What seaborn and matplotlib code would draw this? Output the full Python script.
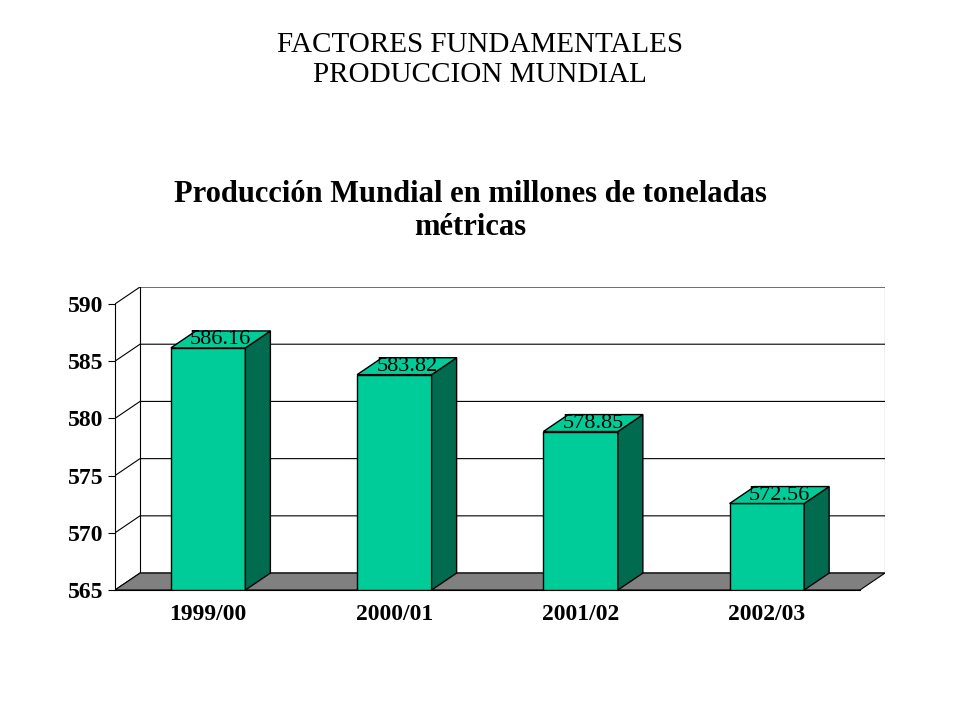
import matplotlib
matplotlib.use("Agg")
import matplotlib.pyplot as plt
import seaborn as sns
import pandas as pd
from matplotlib.patches import Polygon

categories = ["1999/00", "2000/01", "2001/02", "2002/03"]
values = [586.16, 583.82, 578.85, 572.56]
yticks = [565, 570, 575, 580, 585, 590]

plt.rcParams["font.family"] = "Liberation Serif"
fig = plt.figure(figsize=(9.6, 7.2), dpi=100)
W, H = 960, 720
L, R, B, T = 115, 885, 590, 287
ax = fig.add_axes([L / W, 1 - B / H, (R - L) / W, (B - T) / H])

dx = 25 / 186.25
dy = 17 / 57.4 * 5
ymin, ymax = 565, 590
ax.set_xlim(-0.5, 3.5 + dx)
ax.set_ylim(ymin, ymax + dy)

df = pd.DataFrame({"cat": categories, "val": values})
bw = 0.4
sns.barplot(data=df, x="cat", y="val", color="#00CC99", width=bw, saturation=1,
            edgecolor="black", linewidth=1, ax=ax, zorder=5)
for p in ax.patches:
    p.set_y(ymin)
    p.set_height(p.get_height() - ymin)
ax.set_xlim(-0.5, 3.5 + dx)
ax.set_ylim(ymin, ymax + dy)

# back wall and gridlines
for t in yticks:
    ax.plot([-0.5, -0.5 + dx, 3.5 + dx], [t, t + dy, t + dy], color="black", lw=0.8, zorder=1)
ax.plot([3.5 + dx, 3.5 + dx], [ymin + dy, ymax + dy], color="black", lw=0.8, zorder=1)
ax.plot([-0.5 + dx, -0.5 + dx], [ymin + dy, ymax + dy], color="black", lw=0.8, zorder=1)
# floor
ax.add_patch(Polygon([(-0.5, ymin), (3.5, ymin), (3.5 + dx, ymin + dy), (-0.5 + dx, ymin + dy)],
                     closed=True, facecolor="#808080", edgecolor="black", lw=0.8, zorder=2))

for i, v in enumerate(values):
    x0, x1 = i - bw / 2, i + bw / 2
    ax.add_patch(Polygon([(x1, ymin), (x1 + dx, ymin + dy), (x1 + dx, v + dy), (x1, v)],
                         closed=True, facecolor="#006B4E", edgecolor="black", lw=1, zorder=6))
    ax.add_patch(Polygon([(x0, v), (x1, v), (x1 + dx, v + dy), (x0 + dx, v + dy)],
                         closed=True, facecolor="#00CC99", edgecolor="black", lw=1, zorder=6))
    ax.text(i + dx / 2, v + dy / 2, f"{v:.2f}", ha="center", va="center",
            fontsize=16, zorder=7)

for s in ["top", "right"]:
    ax.spines[s].set_visible(False)
ax.spines["left"].set_bounds(ymin, ymax)
ax.spines["bottom"].set_bounds(-0.5, 3.5)
ax.set_yticks(yticks)
ax.set_xticks(range(4))
ax.set_xticklabels(categories)
ax.tick_params(axis="x", length=0, pad=10)
ax.tick_params(axis="y", length=5, direction="out")
for lab in ax.get_xticklabels() + ax.get_yticklabels():
    lab.set_fontsize(17)
    lab.set_fontweight("bold")
ax.set_xlabel("")
ax.set_ylabel("")
ax.set_facecolor("none")

fig.text(0.5, 1 - 60 / H, "FACTORES FUNDAMENTALES\nPRODUCCION MUNDIAL", ha="center",
         va="center", fontsize=21, linespacing=1.15)
fig.text(470 / W, 1 - 211 / H, "Producción Mundial en millones de toneladas\nmétricas",
         ha="center", va="center", fontsize=22, fontweight="bold", linespacing=1.2)

fig.savefig("out.png", dpi=100)
